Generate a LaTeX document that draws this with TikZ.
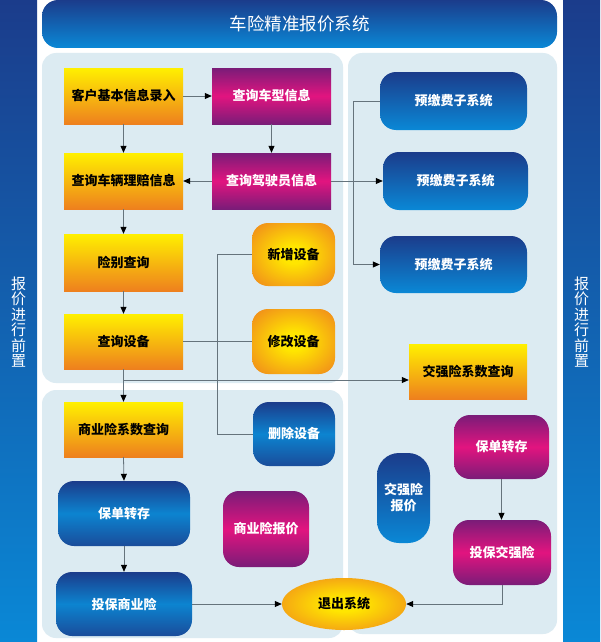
\documentclass[tikz,border=0pt]{standalone}
\usepackage{fontspec}
\newfontfamily\cjk{Noto Sans CJK SC}
\usetikzlibrary{shapes.geometric,arrows.meta}
\definecolor{barTop}{HTML}{1B3C8B}
\definecolor{barBot}{HTML}{0A88D6}
\definecolor{panelC}{HTML}{DCEBF2}
\definecolor{yelT}{HTML}{FFF000}
\definecolor{yelB}{HTML}{EE801E}
\definecolor{magE}{HTML}{7A1C78}
\definecolor{magM}{HTML}{E2147F}
\definecolor{bluT}{HTML}{1B3C8B}
\definecolor{bluM}{HTML}{0C84D0}
\definecolor{bluB}{HTML}{1A4C9A}
\definecolor{oraI}{HTML}{FFE600}
\definecolor{oraO}{HTML}{F08A1C}
\definecolor{lineC}{HTML}{65737C}
\pgfdeclareradialshading{orad}{\pgfpoint{0bp}{0bp}}{color(0bp)=(oraI); color(7bp)=(oraI); color(34bp)=(oraO); color(50bp)=(oraO)}
\tikzset{
  txtfont/.style={font=\cjk\bfseries\fontsize{13}{16}\selectfont},
  ybox/.style={rectangle, inner sep=0pt, minimum width=119pt, minimum height=56pt,
    top color=yelT, bottom color=yelB, text=black, txtfont},
  mbox/.style={rectangle, inner sep=0pt, minimum width=119pt, minimum height=56pt,
    top color=magE, bottom color=magE, middle color=magM, text=white, txtfont},
  bround/.style={rectangle, rounded corners=16pt, inner sep=0pt,
    top color=bluT, bottom color=bluB, middle color=bluM, text=white, txtfont, align=center},
  bgrad/.style={rectangle, rounded corners=16pt, inner sep=0pt,
    top color=bluT, bottom color=barBot, text=white, txtfont, align=center},
  mround/.style={rectangle, rounded corners=16pt, inner sep=0pt,
    top color=magE, bottom color=magE, middle color=magM, text=white, txtfont},
  oround/.style={rectangle, rounded corners=16pt, inner sep=0pt,
    shading=orad, text=black, txtfont},
  conn/.style={draw=lineC, line width=0.8pt},
  arr/.style={conn, -{Triangle[length=7pt,width=6pt,color=black]}},
  bartext/.style={text=white, font=\cjk\fontsize{15}{15.5}\selectfont, align=center, inner sep=0pt},
}
\begin{document}
\begin{tikzpicture}[x=1pt,y=-1pt]
\fill[white] (0,0) rectangle (600,642);
\useasboundingbox (0,0) rectangle (600,642);
% side bars
\shade[top color=barTop, bottom color=barBot] (0,0) rectangle (37,642);
\shade[top color=barTop, bottom color=barBot] (563,0) rectangle (600,642);
\node[bartext] (lbar) at (18.5,322) {报\\价\\进\\行\\前\\置};
\node[bartext] (rbar) at (581.5,322) {报\\价\\进\\行\\前\\置};
% title bar
\shade[top color=barTop, bottom color=barBot, rounded corners=16pt] (42,0) rectangle (557,48);
\node[text=white, font=\cjk\fontsize{17.5}{20}\selectfont, inner sep=0pt] (title) at (299.5,24) {车险精准报价系统};
% panels
\fill[panelC, rounded corners=14pt] (42,53) rectangle (343,383);
\fill[panelC, rounded corners=14pt] (42,390) rectangle (343,638);
\fill[panelC, rounded corners=14pt] (348,53) rectangle (557,634);
% nodes
\node[ybox] (khjb) at (123.5,96) {客户基本信息录入};
\node[mbox] (cxcx) at (271.5,96) {查询车型信息};
\node[ybox] (cllp) at (123.5,181) {查询车辆理赔信息};
\node[mbox] (jsy) at (271.5,181) {查询驾驶员信息};
\node[ybox, minimum height=57pt] (xbcx) at (123.5,262.5) {险别查询};
\node[ybox, minimum height=55pt] (cxsb) at (123.5,341.5) {查询设备};
\node[ybox, minimum height=55pt] (syxs) at (123.5,429.5) {商业险系数查询};
\node[bround, minimum width=132pt, minimum height=65pt] (bdzc1) at (124,513.5) {保单转存};
\node[bround, minimum width=136pt, minimum height=64pt] (tbsy) at (124,604) {投保商业险};
\node[mround, minimum width=86pt, minimum height=76pt] (syjbj) at (266,529) {商业险报价};
\node[oround, minimum width=83pt, minimum height=63pt] (xzsb) at (293.5,254.5) {新增设备};
\node[oround, minimum width=83pt, minimum height=65pt] (xgsb) at (293.5,341.5) {修改设备};
\node[bround, minimum width=82pt, minimum height=64pt] (scsb) at (294,434) {删除设备};
\node[bgrad, minimum width=147pt, minimum height=58pt] (ydz1) at (453.5,101) {预缴费子系统};
\node[bgrad, minimum width=145pt, minimum height=58pt] (ydz2) at (455.5,181) {预缴费子系统};
\node[bgrad, minimum width=147pt, minimum height=57pt] (ydz3) at (453.5,264.5) {预缴费子系统};
\node[ybox, minimum width=118pt, minimum height=55pt] (jqxs) at (468,371.5) {交强险系数查询};
\node[mround, minimum width=95pt, minimum height=64pt] (bdzc2) at (501.5,447) {保单转存};
\node[mround, minimum width=98pt, minimum height=65pt] (tbjq) at (502,552.5) {投保交强险};
\node[bgrad, rounded corners=22pt, minimum width=53pt, minimum height=90pt] (jqbj) at (403.5,498) {交强险\\报价};
\node[ellipse, inner sep=0pt, minimum width=124pt, minimum height=52pt,
  shading=orad, text=black, txtfont] (tc) at (344,604) {退出系统};
% connectors
\draw[arr] (khjb.east) -- (cxcx.west);
\draw[arr] (khjb.south) -- (cllp.north);
\draw[arr] (cxcx.south) -- (jsy.north);
\draw[arr] (jsy.west) -- (cllp.east);
\draw[arr] (jsy.east) -- (ydz2.west);
\draw[arr] (ydz1.west) -- ++(-26,0) |- (ydz3.west);
\draw[arr] (cllp.south) -- (xbcx.north);
\draw[arr] (xbcx.south) -- (cxsb.north);
\draw[arr] (cxsb.south) -- (syxs.north);
\coordinate (jn) at (123.5,380);
\draw[arr] (jn) -- (jn -| jqxs.west);
\draw[conn] (cxsb.east) -- (xgsb.west);
\draw[conn] (xzsb.west) -- ++(-34,0) |- (scsb.west);
\draw[arr] (syxs.south) -- (bdzc1.north);
\draw[arr] (bdzc1.south) -- (tbsy.north);
\draw[arr] (tbsy.east) -- (tc.west);
\draw[arr] (bdzc2.south) -- (bdzc2.south |- tbjq.north);
\draw[arr] (tbjq.south) |- (tc.east);
\end{tikzpicture}
\end{document}
